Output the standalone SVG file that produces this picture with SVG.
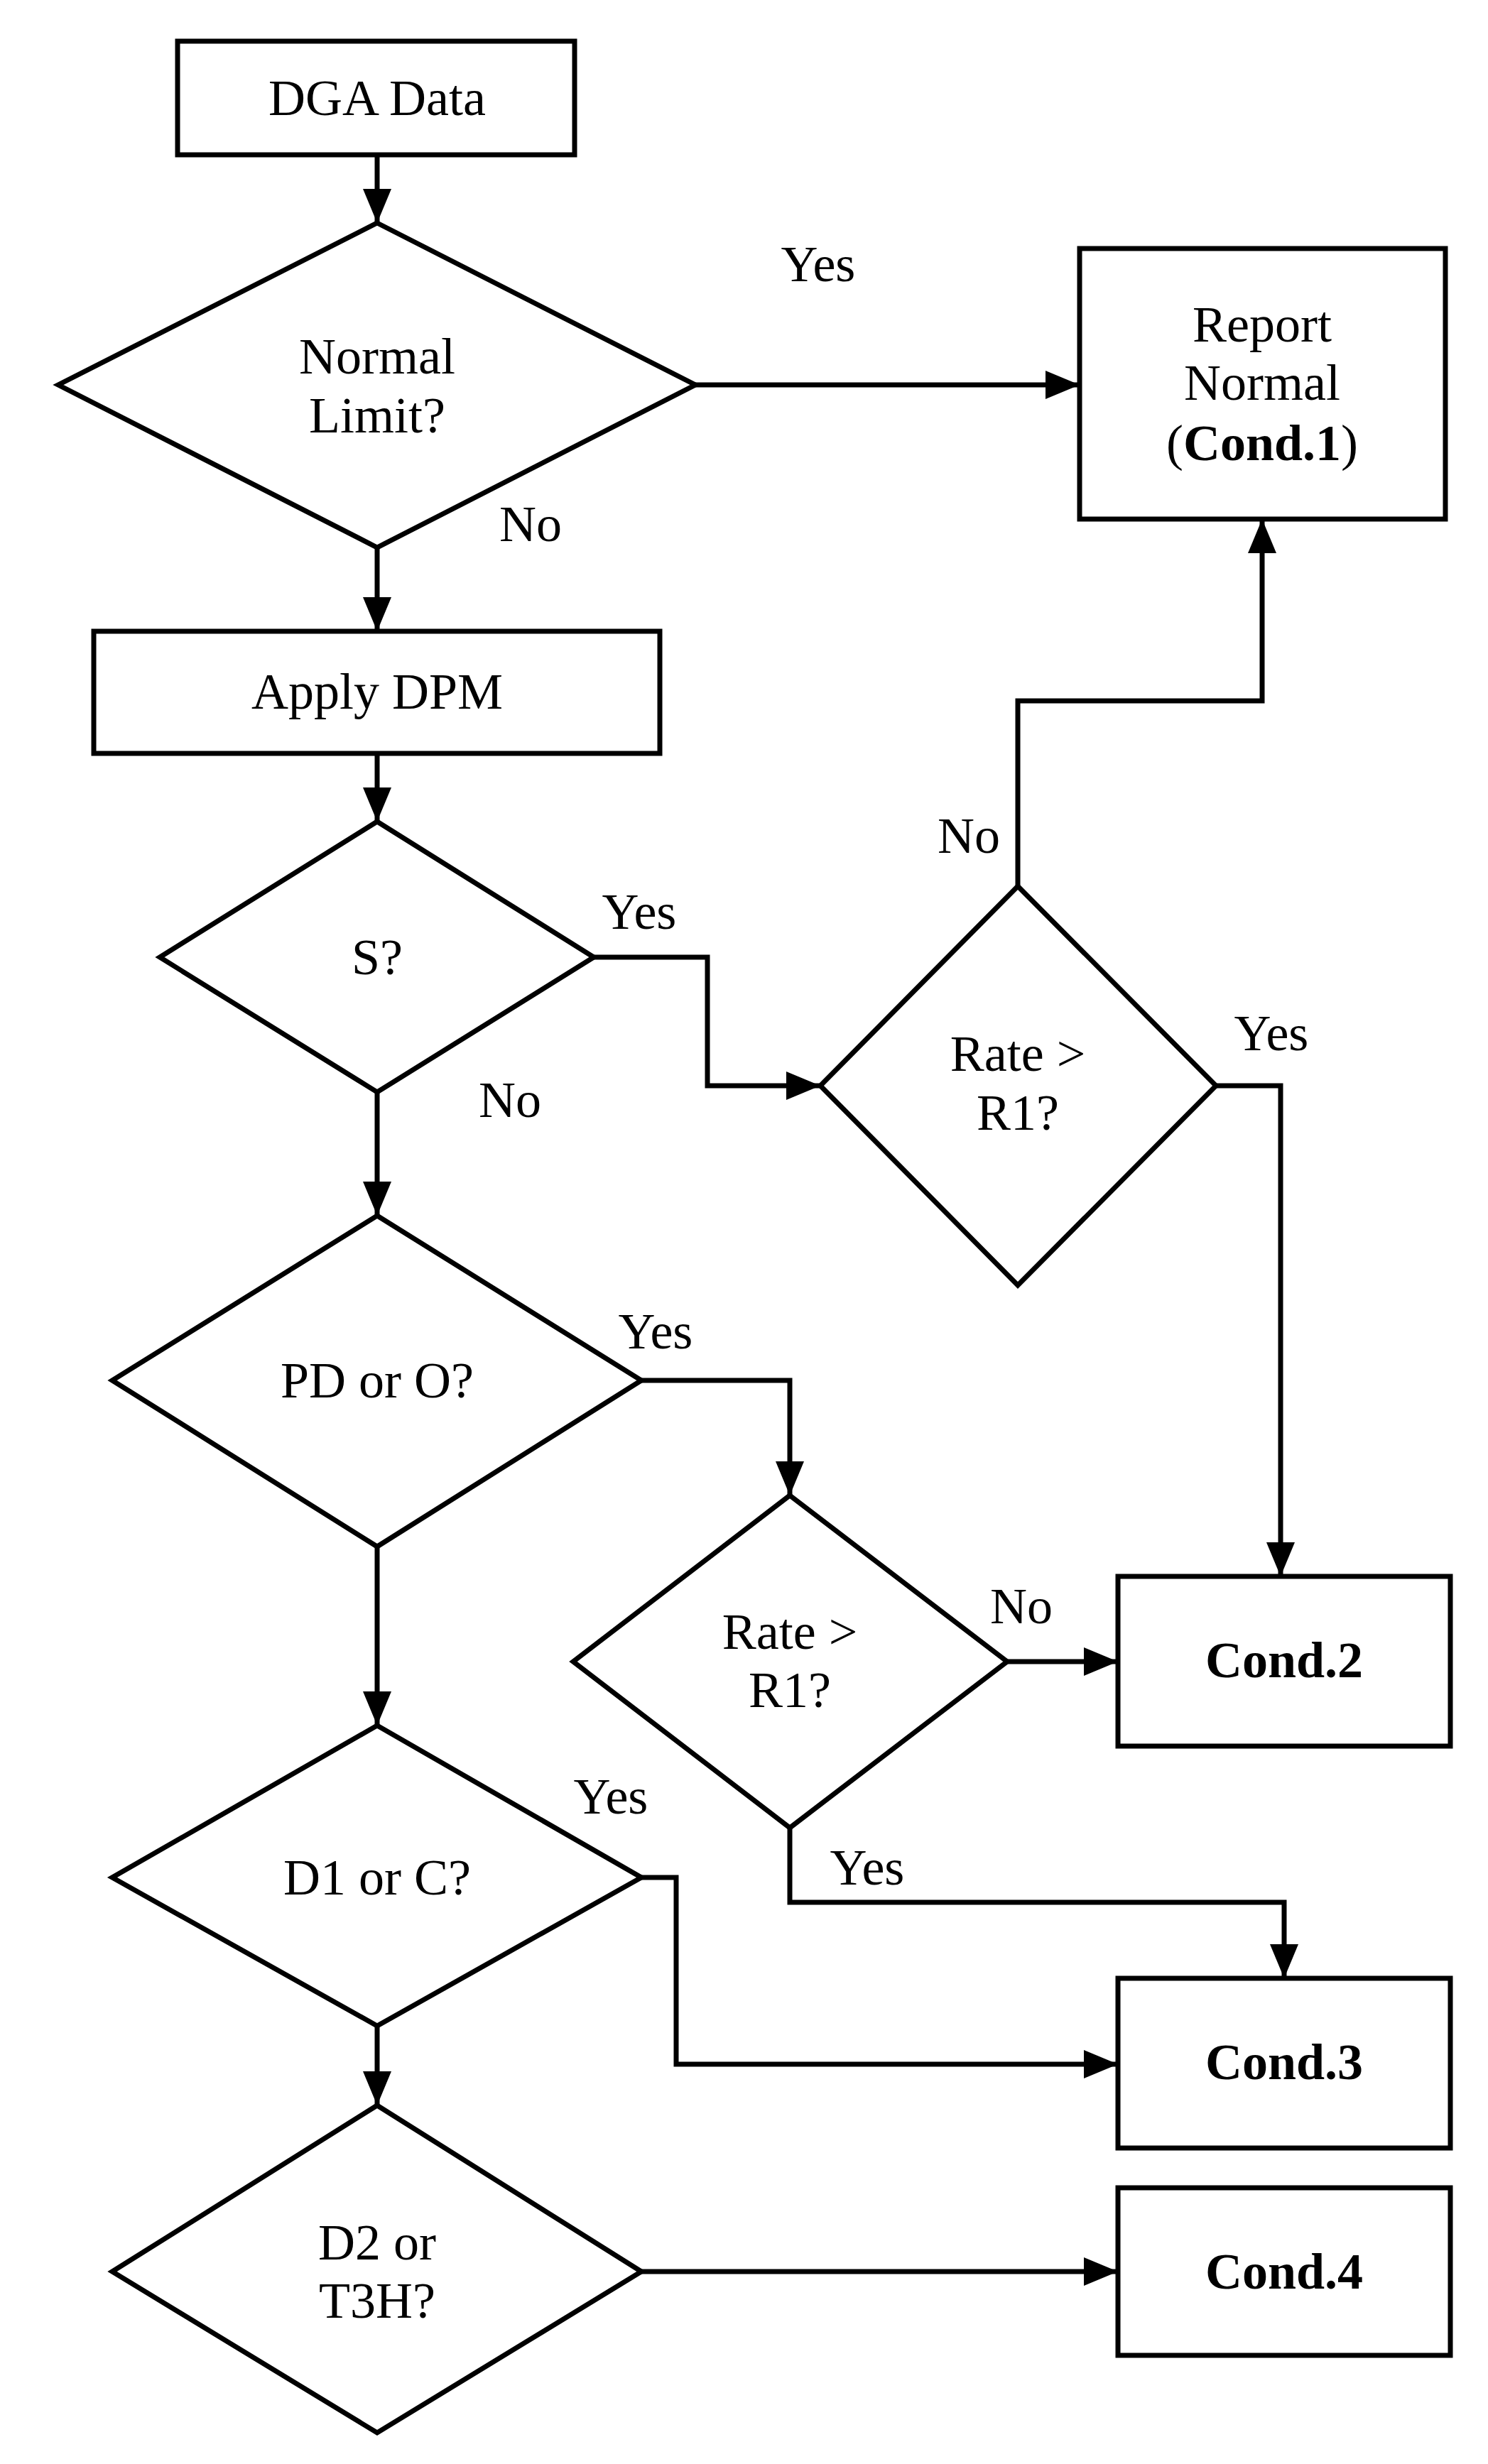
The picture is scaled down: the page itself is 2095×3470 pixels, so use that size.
<svg xmlns="http://www.w3.org/2000/svg" width="2095" height="3470" viewBox="0 0 2095 3470">
<style>
.s{fill:#fff;stroke:#000;stroke-width:7}
.c{fill:none;stroke:#000;stroke-width:7}
text{font-family:"Liberation Serif","DejaVu Serif",serif;font-size:72px;text-anchor:middle;dominant-baseline:central;fill:#000}
.b{font-weight:bold}
.l{text-anchor:start}
</style>
<defs><marker id="a" markerUnits="userSpaceOnUse" markerWidth="50" markerHeight="40" refX="48" refY="20" orient="auto"><path d="M0,0 L48,20 L0,40 Z" fill="#000"/></marker></defs>
<rect width="2095" height="3470" fill="#fff"/>
<g id="connectors">
<path class="c" d="M531,218 V314" marker-end="url(#a)"/>
<path class="c" d="M979,542 H1520" marker-end="url(#a)"/>
<path class="c" d="M531,771 V889" marker-end="url(#a)"/>
<path class="c" d="M531,1061 V1157" marker-end="url(#a)"/>
<path class="c" d="M836,1348 H996 V1529 H1155" marker-end="url(#a)"/>
<path class="c" d="M1433,1248 V987 H1777 V731" marker-end="url(#a)"/>
<path class="c" d="M1712,1529 H1803 V2220" marker-end="url(#a)"/>
<path class="c" d="M531,1538 V1712" marker-end="url(#a)"/>
<path class="c" d="M903,1944 H1112 V2106" marker-end="url(#a)"/>
<path class="c" d="M1418,2340 H1574" marker-end="url(#a)"/>
<path class="c" d="M1112,2574 V2679 H1808 V2786" marker-end="url(#a)"/>
<path class="c" d="M531,2178 V2430" marker-end="url(#a)"/>
<path class="c" d="M903,2644 H952 V2907 H1574" marker-end="url(#a)"/>
<path class="c" d="M531,2853 V2965" marker-end="url(#a)"/>
<path class="c" d="M903,3199 H1574" marker-end="url(#a)"/>
<text x="1152" y="372">Yes</text>
<text x="747" y="738">No</text>
<text x="900" y="1284">Yes</text>
<text x="718" y="1549">No</text>
<text x="1364" y="1177">No</text>
<text x="1790" y="1455">Yes</text>
<text x="923" y="1875">Yes</text>
<text x="1438" y="2262">No</text>
<text x="1221" y="2630">Yes</text>
<text x="860" y="2530">Yes</text>
</g>
<g id="dga"><rect class="s" x="250" y="58" width="559" height="160"/><text x="531" y="138">DGA Data</text></g>
<g id="normal"><polygon class="s" points="531,314 979,542 531,771 82,542"/><text x="531" y="502">Normal</text><text x="531" y="585">Limit?</text></g>
<g id="report"><rect class="s" x="1520" y="350" width="515" height="381"/><text x="1777" y="457">Report</text><text x="1777" y="539">Normal</text><text x="1777" y="624">(<tspan class="b">Cond.1</tspan>)</text></g>
<g id="dpm"><rect class="s" x="132" y="889" width="797" height="172"/><text x="531" y="974">Apply DPM</text></g>
<g id="s"><polygon class="s" points="531,1157 836,1348 531,1538 225,1348"/><text x="531" y="1348">S?</text></g>
<g id="rate1"><polygon class="s" points="1433,1248 1712,1529 1433,1810 1155,1529"/><text x="1433" y="1484">Rate &gt;</text><text x="1433" y="1567">R1?</text></g>
<g id="pdo"><polygon class="s" points="531,1712 903,1944 531,2178 158,1944"/><text x="531" y="1944">PD or O?</text></g>
<g id="rate2"><polygon class="s" points="1112,2106 1418,2340 1112,2574 807,2340"/><text x="1112" y="2298">Rate &gt;</text><text x="1112" y="2380">R1?</text></g>
<g id="cond2"><rect class="s" x="1574" y="2220" width="468" height="239"/><text class="b" x="1808" y="2338">Cond.2</text></g>
<g id="d1c"><polygon class="s" points="531,2430 903,2644 531,2853 158,2644"/><text x="531" y="2644">D1 or C?</text></g>
<g id="cond3"><rect class="s" x="1574" y="2786" width="468" height="239"/><text class="b" x="1808" y="2904">Cond.3</text></g>
<g id="d2"><polygon class="s" points="531,2965 903,3199 531,3426 158,3199"/><text x="531" y="3158">D2 or</text><text x="531" y="3240">T3H?</text></g>
<g id="cond4"><rect class="s" x="1574" y="3081" width="468" height="236"/><text class="b" x="1808" y="3199">Cond.4</text></g>
</svg>
